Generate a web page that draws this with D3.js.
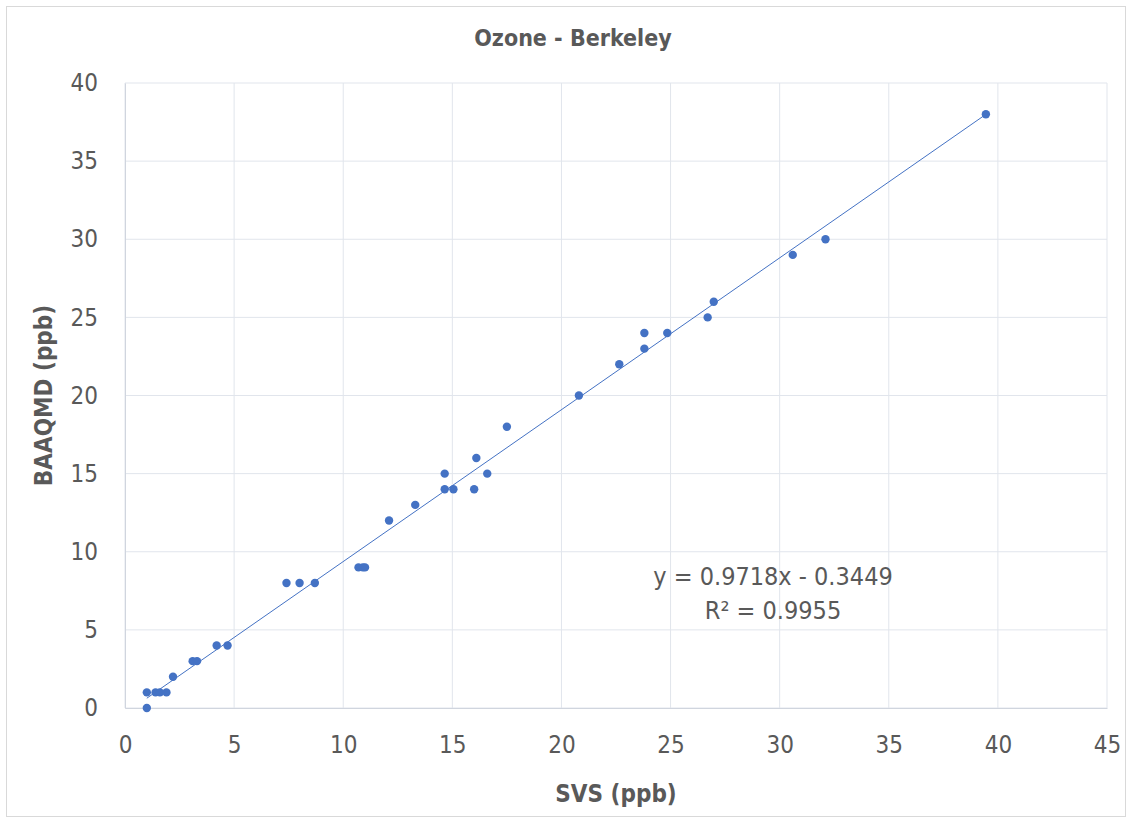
<!DOCTYPE html>
<html>
<head>
<meta charset="utf-8">
<script src="https://cdn.jsdelivr.net/npm/d3@7"></script>
<style>
  body { margin: 0; background: #fff; }
  text { font-family: "Liberation Sans Narrow", "DejaVu Sans Condensed", "Liberation Sans", sans-serif; fill: #595959; }
</style>
</head>
<body>
<div id="chart"></div>
<script>

// data
var svs = [1.0, 1.0, 1.4, 1.6, 1.9, 2.2, 3.1, 3.3, 4.2, 4.7, 7.4, 8.0, 8.7, 10.7, 10.9, 11.0,
           12.1, 13.3, 14.65, 14.65, 15.05, 16.0, 16.1, 16.6, 17.5,
           20.8, 22.65, 23.8, 23.8, 24.85, 26.7, 26.98, 30.6, 32.1, 39.45];
var baaqmd = [0, 1, 1, 1, 1, 2, 3, 3, 4, 4, 8, 8, 8, 9, 9, 9,
              12, 13, 15, 14, 14, 14, 16, 15, 18,
              20, 22, 23, 24, 24, 25, 26, 29, 30, 38];
var xTicks = [0, 5, 10, 15, 20, 25, 30, 35, 40, 45];
var yTicks = [0, 5, 10, 15, 20, 25, 30, 35, 40];
var slope = 0.9718, intercept = -0.3449;
var eqLines = ["y = 0.9718x - 0.3449", "R\u00B2 = 0.9955"];

var W = 1132, H = 823;
var margin = { top: 83, right: 25, bottom: 115, left: 125 },
    width = W - margin.left - margin.right,
    height = H - margin.top - margin.bottom;

var svg = d3.select("#chart").append("svg")
    .attr("width", W)
    .attr("height", H);

// chart border
svg.append("rect")
    .attr("x", 6.5).attr("y", 6.5)
    .attr("width", W - 13).attr("height", H - 13)
    .attr("fill", "none")
    .attr("stroke", "#d9d9d9");

var g = svg.append("g")
    .attr("transform", "translate(" + margin.left + "," + margin.top + ")");

var x = d3.scaleLinear().domain([0, 45]).range([0, width]);
var y = d3.scaleLinear().domain([0, 40]).range([height, 0]);

// gridlines
g.append("g").selectAll("line.vg")
    .data(xTicks)
    .enter().append("line")
    .attr("x1", d => x(d)).attr("x2", d => x(d))
    .attr("y1", 0).attr("y2", height)
    .attr("stroke", "#e1e5ec").attr("stroke-width", 1);

g.append("g").selectAll("line.hg")
    .data(yTicks)
    .enter().append("line")
    .attr("x1", 0).attr("x2", width)
    .attr("y1", d => y(d)).attr("y2", d => y(d))
    .attr("stroke", "#e1e5ec").attr("stroke-width", 1);

// axes
var xAxis = d3.axisBottom(x).tickValues(xTicks).tickSize(0).tickPadding(28);
var yAxis = d3.axisLeft(y).tickValues(yTicks).tickSize(0).tickPadding(27);

g.append("g")
    .attr("class", "x axis")
    .attr("transform", "translate(0," + height + ")")
    .call(xAxis)
    .call(a => a.select(".domain").attr("stroke", "#d0d5de"))
    .selectAll("text")
    .style("font-size", "24px")
    .attr("fill", "#595959");

g.append("g")
    .attr("class", "y axis")
    .call(yAxis)
    .call(a => a.select(".domain").attr("stroke", "#d0d5de"))
    .selectAll("text")
    .style("font-size", "24px")
    .attr("fill", "#595959");

// trendline
var xMin = d3.min(svs), xMax = d3.max(svs);
g.append("line")
    .attr("x1", x(xMin)).attr("y1", y(slope * xMin + intercept))
    .attr("x2", x(xMax)).attr("y2", y(slope * xMax + intercept))
    .attr("stroke", "#4472c4")
    .attr("stroke-width", 1);

// points
g.selectAll("circle")
    .data(svs)
    .enter().append("circle")
    .attr("cx", d => x(d))
    .attr("cy", (d, i) => y(baaqmd[i]))
    .attr("r", 4.2)
    .attr("fill", "#4472c4");

// equation
g.append("g").selectAll("text")
    .data(eqLines)
    .enter().append("text")
    .attr("x", 648)
    .attr("y", (d, i) => 502 + i * 34)
    .attr("text-anchor", "middle")
    .style("font-size", "25px")
    .text(d => d);

// titles
svg.append("text")
    .attr("x", 573).attr("y", 46)
    .attr("text-anchor", "middle")
    .style("font-size", "23px")
    .style("font-weight", "bold")
    .text("Ozone - Berkeley");

svg.append("text")
    .attr("x", 616).attr("y", 802)
    .attr("text-anchor", "middle")
    .style("font-size", "24px")
    .style("font-weight", "bold")
    .text("SVS (ppb)");

svg.append("text")
    .attr("transform", "translate(52," + (margin.top + height / 2) + ") rotate(-90)")
    .attr("text-anchor", "middle")
    .style("font-size", "24px")
    .style("font-weight", "bold")
    .text("BAAQMD (ppb)");

</script>
</body>
</html>
